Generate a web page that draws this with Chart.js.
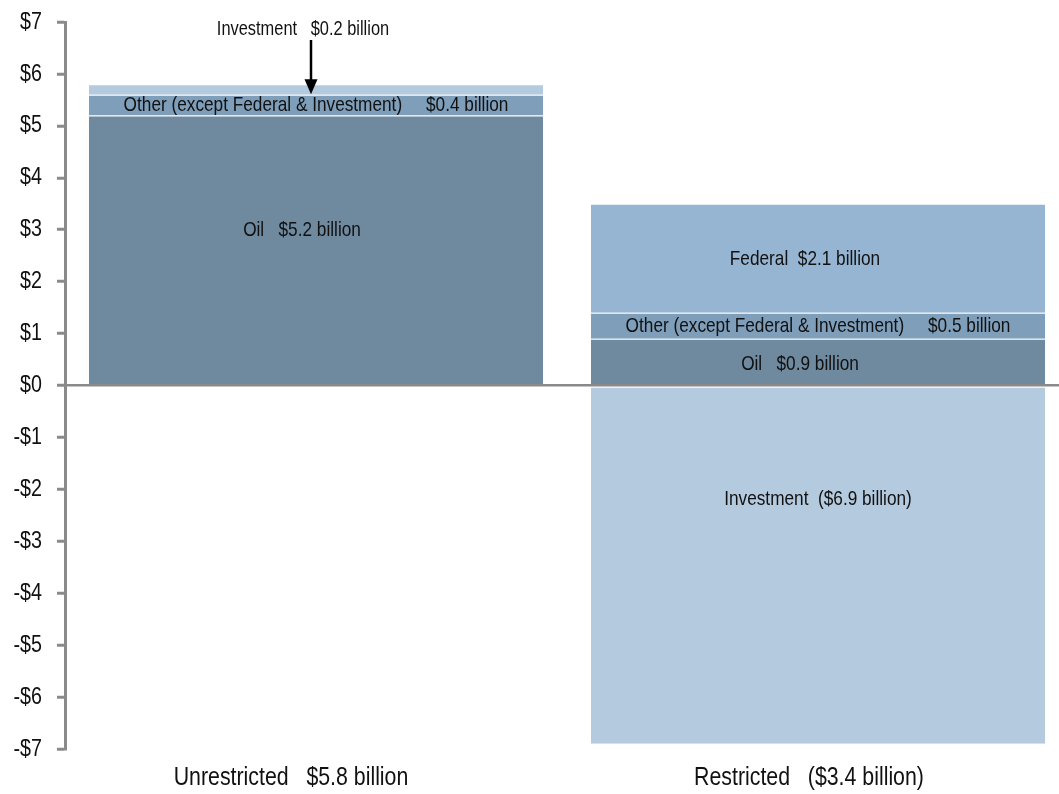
<!DOCTYPE html>
<html>
<head>
<meta charset="utf-8">
<script src="https://cdn.jsdelivr.net/npm/chart.js@4.4.1/dist/chart.umd.min.js"></script>
<style>
  html, body { margin: 0; padding: 0; background: #fff; overflow: hidden; }
  #wrap { width: 1059px; height: 794px; overflow: hidden; }
</style>
</head>
<body>
<div id="wrap"><canvas id="funds" width="1069" height="794"></canvas></div>
<script>
// categories and segment values, $ billions
const categories = ['Unrestricted', 'Restricted'];
const categoryTotals = [5.8, -3.4];
const oil = [5.2, 0.9];
const other = [0.4, 0.5];
const federal = [0, 2.1];
const investment = [0.2, -6.9];
const yTicks = [-7, -6, -5, -4, -3, -2, -1, 0, 1, 2, 3, 4, 5, 6, 7];

const FONT = "'Liberation Sans', Arial, sans-serif";
const NARROW = 0.82; // squeeze text horizontally, narrow-face look

function money(v) {
  return v < 0 ? '($' + Math.abs(v).toFixed(1) + ' billion)' : '$' + v.toFixed(1) + ' billion';
}

function narrowText(ctx, str, x, y, size, align) {
  ctx.save();
  ctx.translate(x, y);
  ctx.scale(NARROW, 1);
  ctx.font = size + 'px ' + FONT;
  ctx.textAlign = align;
  ctx.textBaseline = 'middle';
  ctx.fillStyle = '#111';
  ctx.fillText(str, 0, 0);
  ctx.restore();
}

const segmentNames = ['Oil', 'Other (except Federal & Investment)', 'Federal', 'Investment'];
const gaps = ['   ', '     ', '  ', '  '];
// [dx, dy] tweaks for label placement inside a segment
const nudge = { '0-0': [-14, -20], '2-1': [-13, 1], '0-1': [-18, 3], '3-1': [0, -66] };
const xLabelShift = [-25, -9];

const textLayer = {
  id: 'textLayer',
  afterDraw(chart) {
    const { ctx } = chart;
    const yScale = chart.scales.y;
    const xScale = chart.scales.x;

    // y tick labels
    yScale.ticks.forEach(t => {
      const v = t.value;
      narrowText(ctx, v < 0 ? '-$' + Math.abs(v) : '$' + v, 42, yScale.getPixelForValue(v), 24, 'right');
    });

    // category labels
    chart.data.labels.forEach((lab, i) => {
      narrowText(ctx, lab, xScale.getPixelForValue(i) + xLabelShift[i], 778, 26, 'center');
    });

    // segment labels
    chart.data.datasets.forEach((ds, di) => {
      const meta = chart.getDatasetMeta(di);
      meta.data.forEach((bar, i) => {
        const v = ds.data[i];
        if (!v) return;
        if (di === 3 && i === 0) return; // thin slice, labelled with the arrow
        const n = nudge[di + '-' + i] || [0, 0];
        const y = (bar.y + bar.base) / 2 + n[1];
        narrowText(ctx, segmentNames[di] + gaps[di] + money(v), bar.x + n[0], y, 21, 'center');
      });
    });

    // arrow pointing at the investment slice of the first bar
    const bar = chart.getDatasetMeta(3).data[0];
    const yTop = yScale.getPixelForValue(7);
    const x = bar.x - 5;
    narrowText(ctx, 'Investment   ' + money(investment[0]), bar.x - 13, yTop + 7, 20, 'center');
    ctx.save();
    ctx.strokeStyle = '#000';
    ctx.fillStyle = '#000';
    ctx.lineWidth = 2.5;
    ctx.beginPath();
    ctx.moveTo(x, yTop + 18);
    ctx.lineTo(x, bar.y - 2);
    ctx.stroke();
    ctx.beginPath();
    ctx.moveTo(x - 6.5, bar.y - 5);
    ctx.lineTo(x + 6.5, bar.y - 5);
    ctx.lineTo(x, bar.y + 10);
    ctx.closePath();
    ctx.fill();
    ctx.restore();
  }
};

const common = {
  barPercentage: 0.905,
  categoryPercentage: 1,
  borderWidth: { top: 1, right: 0, bottom: 0, left: 0 },
  borderColor: 'rgba(255,255,255,0.35)',
  borderSkipped: false
};

new Chart(document.getElementById('funds'), {
  type: 'bar',
  plugins: [textLayer],
  data: {
    labels: categories.map((c, i) => c + '   ' + money(categoryTotals[i])),
    datasets: [
      { label: 'Oil', data: oil, backgroundColor: 'rgb(111,137,159)', ...common },
      { label: 'Other', data: other, backgroundColor: 'rgb(126,158,186)', ...common },
      { label: 'Federal', data: federal, backgroundColor: 'rgb(149,181,210)', ...common },
      { label: 'Investment', data: investment, backgroundColor: 'rgb(180,202,222)', ...common }
    ]
  },
  options: {
    responsive: false,
    animation: false,
    layout: { padding: { top: 22, right: 0, bottom: 0, left: 0 } },
    plugins: { legend: { display: false }, tooltip: { enabled: false } },
    scales: {
      x: {
        stacked: true,
        afterFit(scale) { scale.height = 45; },
        grid: { display: false },
        border: { display: false },
        ticks: { display: false }
      },
      y: {
        stacked: true,
        min: -7,
        max: 7,
        afterFit(scale) { scale.width = 65; },
        afterBuildTicks(scale) { scale.ticks = yTicks.map(v => ({ value: v })); },
        grid: {
          z: 1,
          color: c => c.tick && c.tick.value === 0 ? '#8a8a8a' : 'rgba(0,0,0,0)',
          lineWidth: 2.5,
          tickColor: '#8a8a8a',
          tickWidth: 3,
          tickLength: 8
        },
        border: { display: true, color: '#8a8a8a', width: 3, z: 1 },
        ticks: { display: false }
      }
    }
  }
});
</script>
</body>
</html>
